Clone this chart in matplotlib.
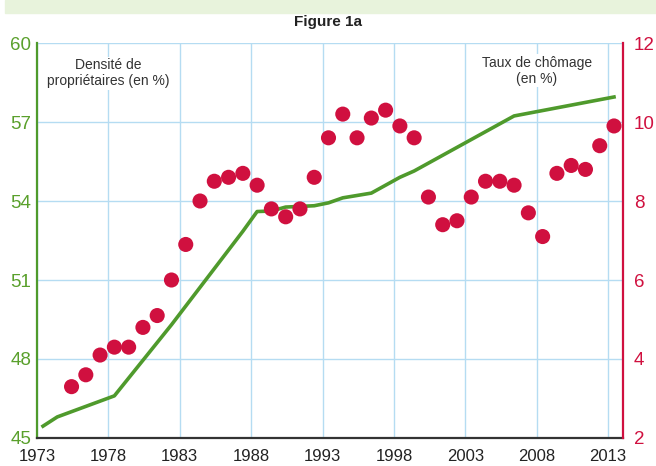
import matplotlib
matplotlib.use("Agg")
import matplotlib.pyplot as plt
from matplotlib.patches import Rectangle

plt.rcParams["font.family"] = ["Liberation Sans", "DejaVu Sans"]

GREEN = "#4f9a2c"
GREEN_TXT = "#5aa02c"
RED = "#d0103f"
GRID = "#b5dcf2"

# propriétaires (en %), axe gauche
own_years = [1973, 1974, 1978, 1982, 1987, 1988, 1989, 1990, 1992, 1993, 1994, 1996,
             1998, 1999, 2006, 2013]
own_vals = [45.45, 45.8, 46.6, 49.3, 52.85, 53.6, 53.62, 53.77, 53.82, 53.93, 54.12, 54.3,
            54.9, 55.14, 57.23, 57.95]

# taux de chômage (en %), axe droit
unemp_years = list(range(1975, 2014))
unemp_vals = [3.3, 3.6, 4.1, 4.3, 4.3, 4.8, 5.1, 6.0, 6.9, 8.0,
              8.5, 8.6, 8.7, 8.4, 7.8, 7.6, 7.8, 8.6, 9.6, 10.2,
              9.6, 10.1, 10.3, 9.9, 9.6, 8.1, 7.4, 7.5, 8.1, 8.5,
              8.5, 8.4, 7.7, 7.1, 8.7, 8.9, 8.8, 9.4, 9.9]

x_ticks = [1973, 1978, 1983, 1988, 1993, 1998, 2003, 2008, 2013]
left_ticks = [45, 48, 51, 54, 57, 60]
right_ticks = [2, 4, 6, 8, 10, 12]

MID = 0.42  # values are plotted mid-year

fig = plt.figure(figsize=(6.56, 4.66), dpi=100)
ax = fig.add_axes([0.0564, 0.0601, 0.8933, 0.8476])
ax2 = ax.twinx()

# banner at the top (cut off in the source)
fig.patches.append(Rectangle((5 / 656, 1 - 13 / 466), 1, 13 / 466,
                             transform=fig.transFigure, color="#e8f3dc", zorder=0))
fig.text(0.5, 1 - 22 / 466, "Figure 1a", ha="center", va="center",
         fontsize=11, fontweight="bold", color="#222222")

ax.set_xlim(1973, 2014.05)
ax.set_ylim(45, 60)
ax2.set_ylim(2, 12)

ax.set_xticks(x_ticks)
ax.set_yticks(left_ticks)
ax2.set_yticks(right_ticks)
ax.grid(True, color=GRID, linewidth=1)
ax.set_axisbelow(True)

ax.plot([y + MID for y in own_years], own_vals, color=GREEN, linewidth=2.6, zorder=3)
ax2.scatter([y + MID for y in unemp_years], unemp_vals, s=118, color=RED,
            edgecolors="none", zorder=4)

ax.tick_params(axis="x", length=0, labelsize=12, colors="#222222", pad=8)
ax.tick_params(axis="y", length=0, labelsize=13.5, colors=GREEN_TXT, pad=4)
ax2.tick_params(axis="y", length=0, labelsize=13.5, colors=RED, pad=8)

for a in (ax, ax2):
    a.spines["top"].set_visible(False)
ax.spines["right"].set_visible(False)
ax.spines["left"].set_color(GREEN)
ax.spines["left"].set_linewidth(1.6)
ax.spines["bottom"].set_color("#333333")
ax.spines["bottom"].set_linewidth(1.6)
ax2.spines["left"].set_visible(False)
ax2.spines["bottom"].set_visible(False)
ax2.spines["right"].set_color(RED)
ax2.spines["right"].set_linewidth(1.6)

box = dict(facecolor="white", edgecolor="none", pad=1)
ax.text(1978, 58.85, "Densité de\npropriétaires (en %)", ha="center", va="center",
        fontsize=10, color="#333333", linespacing=1.2, bbox=box, zorder=5)
ax.text(2008, 58.95, "Taux de chômage\n(en %)", ha="center", va="center",
        fontsize=10, color="#333333", linespacing=1.2, bbox=box, zorder=5)

fig.savefig("out.png", dpi=100)
